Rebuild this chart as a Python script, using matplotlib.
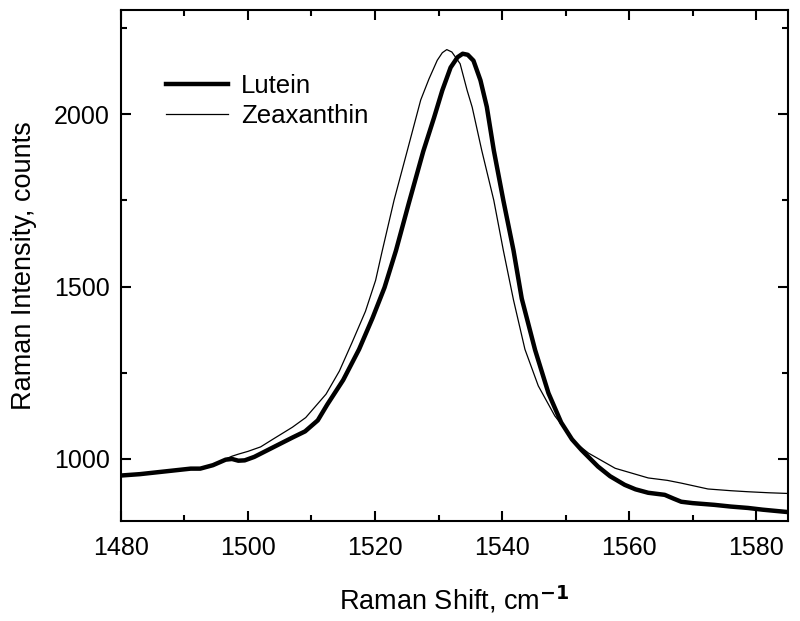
import matplotlib
matplotlib.use("Agg")
import matplotlib.pyplot as plt
from matplotlib.ticker import MultipleLocator

plt.rcParams['font.family'] = ['Liberation Sans', 'DejaVu Sans']
plt.rcParams['mathtext.default'] = 'regular'

# Raman shift (cm-1) and intensity (counts)
lutein_x = [1480, 1483, 1486, 1489, 1491, 1492.5, 1494.5, 1496.5, 1497.5, 1498.5,
            1499.5, 1501, 1504, 1507, 1509, 1511, 1512.5, 1515, 1517.5, 1519.6,
            1521.5, 1523.3, 1525.3, 1527.6, 1529.3, 1530.6, 1531.9, 1533.0, 1533.8,
            1534.6, 1535.5, 1536.6, 1537.6, 1538.7, 1540.2, 1541.8, 1543.1, 1545.2,
            1547.3, 1549.3, 1551, 1552.5, 1555.1, 1557, 1559.3, 1561, 1563, 1565.6,
            1567, 1568.2, 1570, 1573.4, 1576, 1578.7, 1581, 1585]
lutein_y = [952, 956, 962, 968, 972, 972, 982, 998, 1000, 995,
            996, 1006, 1034, 1062, 1080, 1112, 1158, 1229, 1318, 1408,
            1497, 1604, 1740, 1892, 1990, 2069, 2135, 2165, 2175,
            2172, 2155, 2098, 2021, 1895, 1750, 1605, 1465, 1316,
            1191, 1106, 1057, 1026, 978, 950, 925, 912, 902, 896,
            885, 876, 872, 867, 862, 858, 853, 846]

zea_x = [1480, 1483, 1486, 1489, 1491, 1492.5, 1494.5, 1496.5, 1497.5, 1498.5,
         1500, 1502, 1504, 1507, 1509.1, 1512.3, 1514.4, 1516.4, 1518.5, 1520.1,
         1521.1, 1523.0, 1525.1, 1527.2, 1528.5, 1529.8, 1530.6, 1531.3, 1532.1,
         1533.4, 1534.5, 1535.3, 1536.8, 1538.7, 1540.2, 1541.8, 1543.6, 1545.7,
         1548.3, 1551.5, 1553.6, 1557.8, 1563, 1566, 1568.2, 1572.4, 1576, 1578.7,
         1582, 1585]
zea_y = [952, 956, 962, 968, 972, 972, 982, 1000, 1008, 1014,
         1022, 1035, 1058, 1092, 1120, 1188, 1255, 1338, 1428, 1518,
         1600, 1750, 1895, 2041, 2102, 2156, 2178, 2187, 2180,
         2146, 2069, 2020, 1895, 1750, 1605, 1461, 1318, 1212,
         1125, 1048, 1017, 973, 945, 938, 930, 913, 908, 905,
         902, 900]

fig = plt.figure(figsize=(8, 6.21), dpi=100)
ax = fig.add_axes([0.151, 0.1615, 0.834, 0.8225])

ax.plot(lutein_x, lutein_y, color='black', linewidth=3.2, label='Lutein')
ax.plot(zea_x, zea_y, color='black', linewidth=0.9, label='Zeaxanthin')

ax.set_xlim(1480, 1585)
ax.set_ylim(821, 2302)
ax.xaxis.set_major_locator(MultipleLocator(20))
ax.xaxis.set_minor_locator(MultipleLocator(10))
ax.yaxis.set_major_locator(MultipleLocator(500))
ax.yaxis.set_minor_locator(MultipleLocator(250))

ax.tick_params(which='both', direction='in', top=True, right=True, width=1.5,
               labelsize=18)
ax.tick_params(which='major', length=7)
ax.tick_params(which='minor', length=4.5)
ax.tick_params(axis='x', pad=11)
ax.tick_params(axis='y', pad=8)
for s in ax.spines.values():
    s.set_linewidth(1.5)

ax.set_xlabel(r'Raman Shift, cm$^{\bf{-1}}$', fontsize=19.5, labelpad=17)
ax.set_ylabel('Raman Intensity, counts', fontsize=19.5, labelpad=12)

ax.legend(loc='upper left', bbox_to_anchor=(0.068, 0.875), frameon=False,
          fontsize=18.5, handlelength=2.4, handletextpad=0.5, labelspacing=0.25,
          borderpad=0, borderaxespad=0)

fig.savefig('out.png', dpi=100)
